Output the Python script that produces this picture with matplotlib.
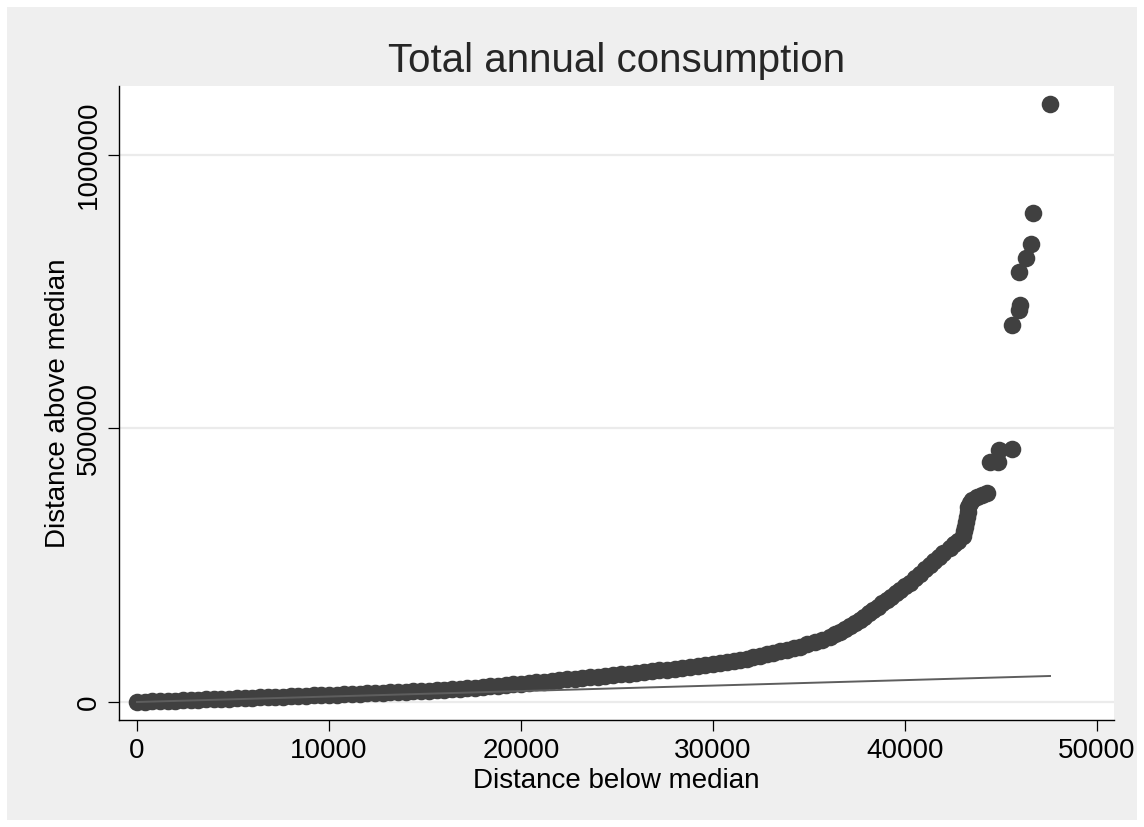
import matplotlib
matplotlib.use("Agg")
import matplotlib.pyplot as plt
from matplotlib.patches import Rectangle

plt.rcParams["font.family"] = ["Liberation Sans", "DejaVu Sans"]

# distance below / above the median for each pair of order statistics
below = [
    0, 400, 800, 1200, 1600, 2000, 2400, 2800, 3200, 3600, 4000, 4400, 4800,
    5200, 5600, 6000, 6400, 6800, 7200, 7600, 8000, 8400, 8800, 9200, 9600,
    10000, 10400, 10800, 11200, 11600, 12000, 12400, 12800, 13200, 13600,
    14000, 14400, 14800, 15200, 15600, 16000, 16400, 16800, 17200, 17600,
    18000, 18400, 18800, 19200, 19600, 20000, 20400, 20800, 21200, 21600,
    22000, 22400, 22800, 23200, 23600, 24000, 24400, 24800, 25200, 25600,
    26000, 26400, 26800, 27200, 27600, 28000, 28400, 28800, 29200, 29600,
    30000, 30365, 30750, 31100, 31406, 31750, 32100, 32448, 32800, 33150,
    33490, 33850, 34200, 34531, 34920, 35313, 35700, 36094, 36354, 36615,
    36875, 37135, 37396, 37656, 37882, 38107, 38333, 38576, 38820, 39063,
    39289, 39514, 39740, 40000, 40260, 40521, 40781, 41042, 41302, 41528,
    41753, 41979, 42344, 42552, 42760, 43021, 43073, 43125, 43177, 43229,
    43255, 43281, 43385, 43490, 43750, 44010, 44271,
    44427, 44859, 44896, 45557, 45589, 45922, 45974, 45953, 46302, 46563,
    46682, 47552,
]
above = [
    0, 535, 1070, 1605, 2140, 2675, 3210, 3745, 4280, 4791, 5296, 5801, 6306,
    6813, 7318, 7823, 8328, 8834, 9339, 9844, 10349, 10855, 11404, 11966,
    12527, 13089, 13650, 14213, 14775, 15336, 15898, 16460, 17021, 17583,
    18144, 18812, 19514, 20216, 20918, 21620, 22323, 23128, 24251, 25375,
    26498, 27621, 28744, 29867, 31094, 32357, 33621, 34885, 36148, 37412,
    38676, 39940, 41203, 42466, 43729, 44993, 46256, 47619, 49023, 50427,
    51831, 53236, 54640, 56090, 57719, 59347, 60976, 62605, 64234, 65863,
    67676, 69571, 71300, 73328, 75172, 76784, 79198, 81655, 84097, 86876,
    89640, 92324, 95359, 98309, 101099, 105374, 109692, 114221, 118833,
    123708, 128587, 133459, 138943, 144428, 149912, 156006, 162100, 168194,
    174288, 180382, 186476, 192570, 198664, 204758, 211157, 217556, 225783,
    234010, 242237, 250463, 257776, 265089, 272402, 281543, 287942, 294340,
    303481, 311708, 319935, 329076, 338217, 347358, 356499, 362898, 369296,
    374781, 378437, 382094,
    439317, 439317, 460706, 462535, 689231, 716654, 725795, 786674, 811172,
    836767, 893441, 1092715,
]

xticks = [0, 10000, 20000, 30000, 40000, 50000]
yticks = [0, 500000, 1000000]

W, H = 1144, 827
fig = plt.figure(figsize=(W / 100, H / 100), dpi=100, facecolor="white")
fig.patches.append(Rectangle((7 / W, 7 / H), 1130 / W, 813 / H,
                             transform=fig.transFigure, facecolor="#efefef",
                             edgecolor="none", zorder=-5))

ax = fig.add_axes([119 / W, (H - 720) / H, 995 / W, 634 / H])
ax.set_facecolor("white")

ax.scatter(below, above, s=160, color="#404040", linewidths=0, zorder=3)
ax.plot([0, max(below)], [0, max(below)], color="#5e5e5e", lw=1.4, zorder=4)

ax.set_xlim(-937, 50885)
ax.set_ylim(-32907, 1126142)
ax.set_xticks(xticks)
ax.set_yticks(yticks)
ax.set_xticklabels([str(v) for v in xticks])
ax.set_yticklabels([str(v) for v in yticks], rotation=90, va="center")
ax.grid(axis="y", color="#ebebeb", lw=1.6, zorder=0)
ax.set_axisbelow(True)

for side in ("top", "right"):
    ax.spines[side].set_visible(False)
for side in ("left", "bottom"):
    ax.spines[side].set_color("black")
    ax.spines[side].set_linewidth(1.0)

ax.tick_params(axis="both", length=8, width=0.9, color="black",
               labelsize=20, labelcolor="black")
ax.tick_params(axis="x", pad=5)
ax.tick_params(axis="y", pad=4)

ax.set_xlabel("Distance below median", fontsize=20, labelpad=3)
ax.set_ylabel("Distance above median", fontsize=20, labelpad=4)

fig.text(616.5 / W, 1 - 71.5 / H, "Total annual consumption", fontsize=29,
         ha="center", va="baseline", color="#262626")

fig.savefig("out.png", dpi=100, facecolor=fig.get_facecolor())
